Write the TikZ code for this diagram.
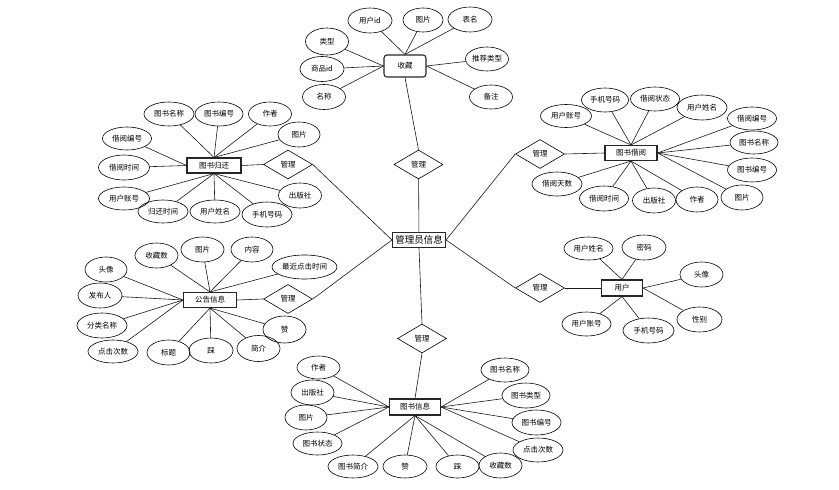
\documentclass[tikz,border=0pt]{standalone}
\usepackage{fontspec}
\newfontfamily\cjk{Noto Sans CJK SC}
\usetikzlibrary{shapes.geometric}
\tikzset{
  attr/.style={ellipse, draw=black, line width=0.6pt, minimum width=#1, minimum height=24pt, inner sep=0pt, font=\cjk\fontsize{7.5}{8}\selectfont},
  attr/.default=44pt,
  ent/.style={rectangle, draw=black!85, line width=1.1pt, minimum width=#1, minimum height=15pt, inner sep=0pt, font=\cjk\fontsize{7.5}{8}\selectfont},
  ent/.default=52pt,
  rel/.style={diamond, draw=black, line width=0.6pt, minimum width=49pt, minimum height=29pt, inner sep=0pt, font=\cjk\fontsize{7.5}{8}\selectfont},
  conn/.style={draw=black!90, line width=0.6pt},
}
\begin{document}
\begin{tikzpicture}[x=1pt,y=-1pt]
\useasboundingbox (0,0) rectangle (839,490);
% central
\node[ent=53pt, font=\cjk\fontsize{9.5}{10}\selectfont] (admin) at (419,240) {管理员信息};
% diamonds
\node[rel] (dtop) at (418.5,164.5) {管理};
\node[rel] (dlt) at (288,164.5) {管理};
\node[rel] (dlb) at (288,299) {管理};
\node[rel] (drt) at (540,154) {管理};
\node[rel] (drb) at (540,288) {管理};
\node[rel] (dbot) at (422,338.5) {管理};
% entities
\node[ent=42pt, minimum height=22pt, rounded corners=3pt] (fav) at (405,66) {收藏};
\node[ent=54pt] (ret) at (214,165.5) {图书归还};
\node[ent=52pt] (bor) at (631,153) {图书借阅};
\node[ent=53pt] (ntc) at (210,300) {公告信息};
\node[ent=41pt, minimum height=16pt] (usr) at (622,288) {用户};
\node[ent=51pt, minimum height=16pt] (bk) at (415,407) {图书信息};
% relationship links
\draw[conn] (admin) -- (dtop);
\draw[conn] (dtop.north) -- (fav.south);
\draw[conn] (dlt.east) -- (admin.west);
\draw[conn] (dlb.east) -- (admin.west);
\draw[conn] (drt.west) -- (admin.east);
\draw[conn] (drb.west) -- (admin.east);
\draw[conn] (admin.south) -- (dbot.north);
\draw[conn] (dbot.south) -- (bk.north);
\draw[conn] (dlt.west) -- (ret.east);
\draw[conn] (dlb.west) -- (ntc.east);
\draw[conn] (drt.east) -- (bor.west);
\draw[conn] (drb.east) -- (usr.west);
% 收藏 attributes
\node[attr=44pt, minimum height=25pt] (f1) at (370,20.5) {用户id};
\node[attr=40pt] (f2) at (423,20) {图片};
\node[attr=44pt, minimum height=25pt] (f3) at (470,19.5) {表名};
\node[attr=43pt, minimum height=27pt] (f4) at (327,41.5) {类型};
\node[attr=44pt, minimum height=25pt] (f5) at (322,69) {商品id};
\node[attr=43pt, minimum height=25pt] (f6) at (324,97) {名称};
\node[attr=43pt] (f7) at (487,59) {推荐类型};
\node[attr=43pt] (f8) at (491,97) {备注};
\foreach \n in {f1,f2,f3} \draw[conn] (\n) -- (fav.north);
\foreach \n in {f4,f5,f6} \draw[conn] (\n) -- (fav.west);
\foreach \n in {f7,f8} \draw[conn] (\n) -- (fav.east);
% 图书归还 attributes
\node[attr=50pt] (r1) at (169,114) {图书名称};
\node[attr=48pt] (r2) at (219,114) {图书编号};
\node[attr=43pt] (r3) at (270,114) {作者};
\node[attr=42pt, minimum height=25pt] (r4) at (299,134.5) {图片};
\node[attr=49pt, minimum height=23pt] (r5) at (127,138.5) {借阅编号};
\node[attr=51pt, minimum height=25pt] (r6) at (124,167.5) {借阅时间};
\node[attr=51pt, minimum height=23pt] (r7) at (124,198.5) {用户账号};
\node[attr=50pt, minimum height=23pt] (r8) at (163,211.5) {归还时间};
\node[attr=50pt, minimum height=23pt] (r9) at (215,211.5) {用户姓名};
\node[attr=50pt, minimum height=25pt] (r10) at (267,214.5) {手机号码};
\node[attr=43pt, minimum height=25pt] (r11) at (300,195.5) {出版社};
\foreach \n in {r1,r2,r3,r4} \draw[conn] (\n) -- (ret.north);
\foreach \n in {r5,r6} \draw[conn] (\n) -- (ret.west);
\foreach \n in {r7,r8,r9,r10,r11} \draw[conn] (\n) -- (ret.south);
% 图书借阅 attributes
\node[attr=51pt, minimum height=23pt] (b1) at (566,116) {用户账号};
\node[attr=47pt] (b2) at (605,100) {手机号码};
\node[attr=49pt] (b3) at (655,99) {借阅状态};
\node[attr=50pt, minimum height=25pt] (b4) at (702,107.5) {用户姓名};
\node[attr=49pt, minimum height=23pt] (b5) at (752,118.5) {借阅编号};
\node[attr=48pt, minimum height=23pt] (b6) at (754,142.5) {图书名称};
\node[attr=49pt] (b7) at (752,170) {图书编号};
\node[attr=42pt, minimum height=25pt] (b8) at (742,197.5) {图片};
\node[attr=42pt, minimum height=25pt] (b9) at (697,199.5) {作者};
\node[attr=43pt, minimum height=25pt] (b10) at (654,200.5) {出版社};
\node[attr=49pt, minimum height=25pt] (b11) at (604,198.5) {借阅时间};
\node[attr=50pt] (b12) at (557,184) {借阅天数};
\foreach \n in {b1,b2,b3,b4} \draw[conn] (\n) -- (bor.north);
\foreach \n in {b5,b6,b7,b8} \draw[conn] (\n) -- (bor.east);
\foreach \n in {b9,b10,b11,b12} \draw[conn] (\n) -- (bor.south);
% 公告信息 attributes
\node[attr=43pt, minimum height=25pt] (n1) at (156.5,255.5) {收藏数};
\node[attr=43pt, minimum height=25pt] (n2) at (202.5,249.5) {图片};
\node[attr=42pt, minimum height=25pt] (n3) at (252,249.5) {内容};
\node[attr=65pt] (n4) at (304.5,267) {最近点击时间};
\node[attr=42pt, minimum height=25pt] (n5) at (106,269.5) {头像};
\node[attr=44pt, minimum height=25pt] (n6) at (100,295.5) {发布人};
\node[attr=50pt, minimum height=25pt] (n7) at (102,325.5) {分类名称};
\node[attr=50pt, minimum height=23pt] (n8) at (113,351.5) {点击次数};
\node[attr=43pt, minimum height=25pt] (n9) at (168.5,352.5) {标题};
\node[attr=44pt, minimum height=25pt] (n10) at (211,350.5) {踩};
\node[attr=43pt, minimum height=26pt] (n11) at (258.5,348.5) {简介};
\node[attr=43pt, minimum height=27pt] (n12) at (284.5,329.5) {赞};
\foreach \n in {n1,n2,n3,n4} \draw[conn] (\n) -- (ntc.north);
\foreach \n in {n5,n6,n7,n8} \draw[conn] (\n) -- (ntc.west);
\foreach \n in {n9,n10,n11,n12} \draw[conn] (\n) -- (ntc.south);
% 用户 attributes
\node[attr=49pt, minimum height=23pt] (u1) at (588.5,248.5) {用户姓名};
\node[attr=44pt, minimum height=25pt] (u2) at (644,247.5) {密码};
\node[attr=43pt, minimum height=25pt] (u3) at (701.5,274.5) {头像};
\node[attr=45pt, minimum height=25pt] (u4) at (699.5,319.5) {性别};
\node[attr=51pt, minimum height=25pt] (u5) at (648.5,330.5) {手机号码};
\node[attr=49pt] (u6) at (586.5,324) {用户账号};
\foreach \n in {u1,u2} \draw[conn] (\n) -- (usr.north);
\foreach \n in {u3,u4} \draw[conn] (\n) -- (usr.east);
\foreach \n in {u5,u6} \draw[conn] (\n) -- (usr.south);
% 图书信息 attributes
\node[attr=43pt, minimum height=23pt] (k1) at (318.5,367.5) {作者};
\node[attr=43pt, minimum height=25pt] (k2) at (312.5,392.5) {出版社};
\node[attr=42pt, minimum height=25pt] (k3) at (306,417.5) {图片};
\node[attr=49pt, minimum height=23pt] (k4) at (317.5,443.5) {图书状态};
\node[attr=50pt, minimum height=23pt] (k5) at (353,466.5) {图书简介};
\node[attr=44pt, minimum height=23pt] (k6) at (405,466.5) {赞};
\node[attr=43pt, minimum height=23pt] (k7) at (457.5,466.5) {踩};
\node[attr=43pt, minimum height=25pt] (k8) at (500.5,465.5) {收藏数};
\node[attr=50pt] (k9) at (538,450) {点击次数};
\node[attr=49pt, minimum height=25pt] (k10) at (536.5,422.5) {图书编号};
\node[attr=48pt, minimum height=25pt] (k11) at (526,395.5) {图书类型};
\node[attr=48pt] (k12) at (505,370) {图书名称};
\foreach \n in {k1,k2,k3,k4} \draw[conn] (\n) -- (bk.west);
\foreach \n in {k5,k6,k7,k8} \draw[conn] (\n) -- (bk.south);
\foreach \n in {k9,k10,k11,k12} \draw[conn] (\n) -- (bk.east);
\end{tikzpicture}
\end{document}
